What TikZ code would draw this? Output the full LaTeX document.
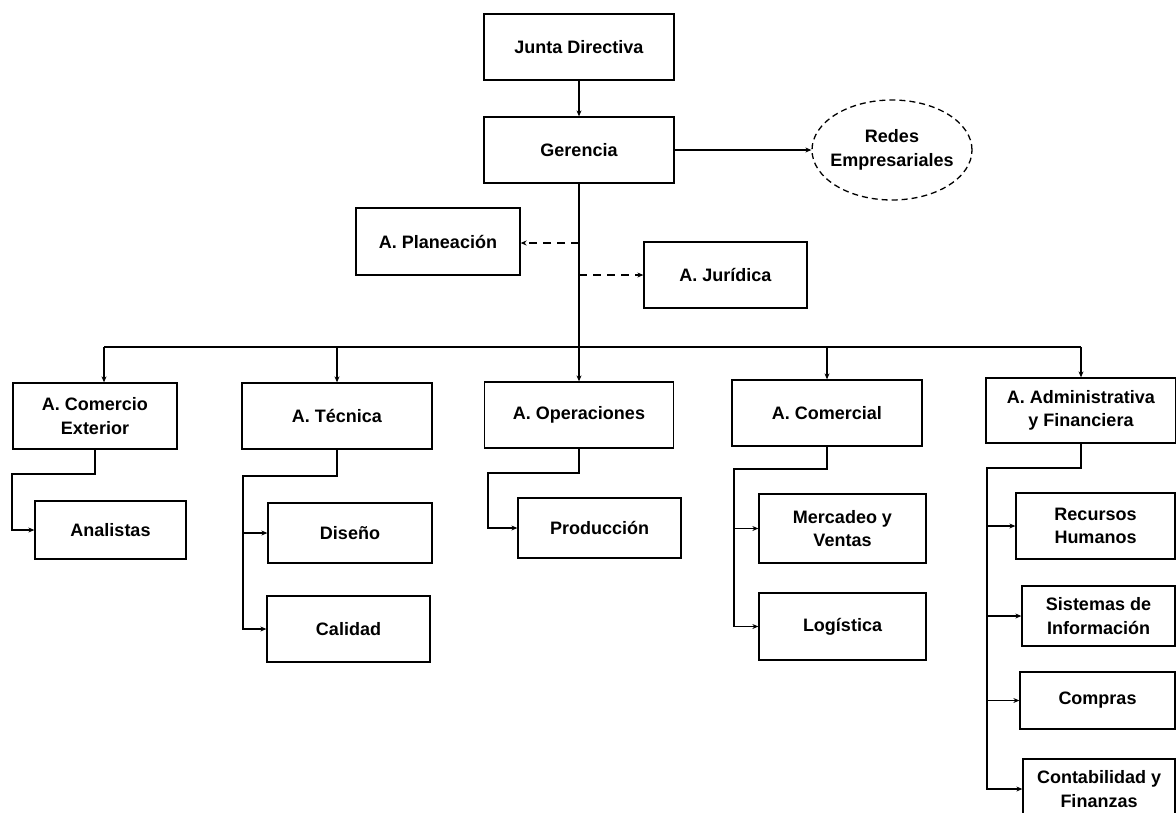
\documentclass[tikz,border=0pt]{standalone}
\usepackage{fontspec}
\setmainfont{Liberation Sans}
\usetikzlibrary{arrows.meta,shapes.geometric}

\begin{document}
\begin{tikzpicture}[x=1pt, y=-1pt,
  main/.style = {draw, line width=1.3pt, rectangle, inner sep=0pt, align=center,
                 font=\fontsize{18}{23.5}\selectfont\bfseries},
  link/.style = {line width=1.9pt, -{Stealth[length=6pt,width=5pt]}},
  dlink/.style = {link, dash pattern=on 8pt off 6pt}]
\useasboundingbox (0,0) rectangle (1176,812);

\node[main, minimum width=190, minimum height=66] (1) at (579,47) {Junta Directiva};
\node[main, minimum width=190, minimum height=66] (2) at (579,150) {Gerencia};
\node[main, ellipse, dashed, dash pattern=on 6pt off 4pt, inner xsep=-9pt, minimum width=160, minimum height=100] (3) at (892,150) {Redes\\Empresariales};
\node[main, minimum width=164, minimum height=67] (4) at (438,241.5) {A. Planeación};
\node[main, minimum width=163, minimum height=66] (5) at (725.5,275) {A. Jurídica};

\node[main, minimum width=164, minimum height=66] (6) at (95,416) {A. Comercio\\Exterior};
\node[main, minimum width=190, minimum height=66] (7) at (337,416) {A. Técnica};
\node[main, minimum width=189, minimum height=66] (8) at (579,415) {A. Operaciones};
\node[main, minimum width=190, minimum height=66] (9) at (827,413) {A. Comercial};
\node[main, minimum width=190, minimum height=65] (10) at (1081,410.5) {A. Administrativa\\y Financiera};

\node[main, minimum width=151, minimum height=58] (11) at (110.5,530) {Analistas};
\node[main, minimum width=164, minimum height=60] (12) at (350,533) {Diseño};
\node[main, minimum width=163, minimum height=66] (13) at (348.5,629) {Calidad};
\node[main, minimum width=163, minimum height=60] (14) at (599.5,528) {Producción};
\node[main, minimum width=167, minimum height=69] (15) at (842.5,528.5) {Mercadeo y\\Ventas};
\node[main, minimum width=167, minimum height=67] (16) at (842.5,626.5) {Logística};
\node[main, minimum width=159, minimum height=66] (17) at (1095.5,526) {Recursos\\Humanos};
\node[main, minimum width=153, minimum height=60] (18) at (1098.5,616) {Sistemas de\\Información};
\node[main, minimum width=155, minimum height=57] (19) at (1097.5,700.5) {Compras};
\node[main, minimum width=152, minimum height=60] (20) at (1099,789) {Contabilidad y\\Finanzas};

\coordinate (bus) at (579,347);
\coordinate (p1) at (579,243);
\coordinate (p2) at (579,275);
\coordinate (b1) at (104,347);
\coordinate (b2) at (337,347);
\coordinate (b4) at (827,347);
\coordinate (b5) at (1081,347);

\draw[link] (1) -- (2);
\draw[link] (2) -- (3);
\draw[line width=1.9pt] (2) -- (bus);
\draw[dlink] (p1) -- (p1 -| 4.east);
\draw[dlink] (p2) -- (5);

\draw[line width=1.9pt] (b1) -- (b5);
\draw[link] (b1) -- (b1 |- 6.north);
\draw[link] (b2) -- (7);
\draw[link] (bus) -- (8);
\draw[link] (b4) -- (9);
\draw[link] (b5) -- (10);

\coordinate (c6) at (12,474);
\coordinate (c7) at (243,476);
\coordinate (c8) at (488,473);
\coordinate (c9) at (734,469);
\coordinate (c10) at (987,468);

\draw[link] (6.south) |- (c6) |- (11.west);
\draw[link] (7.south) |- (c7) |- (13.west);
\draw[link] (c7) |- (12.west);
\draw[link] (8.south) |- (c8) |- (14.west);
\draw[link] (9.south) |- (c9) |- (16.west);
\draw[link] (c9) |- (15.west);
\draw[link] (10.south) |- (c10) |- (20.west);
\foreach \n in {17,18,19}
  \draw[link] (c10) |- (\n.west);
\end{tikzpicture}
\end{document}
